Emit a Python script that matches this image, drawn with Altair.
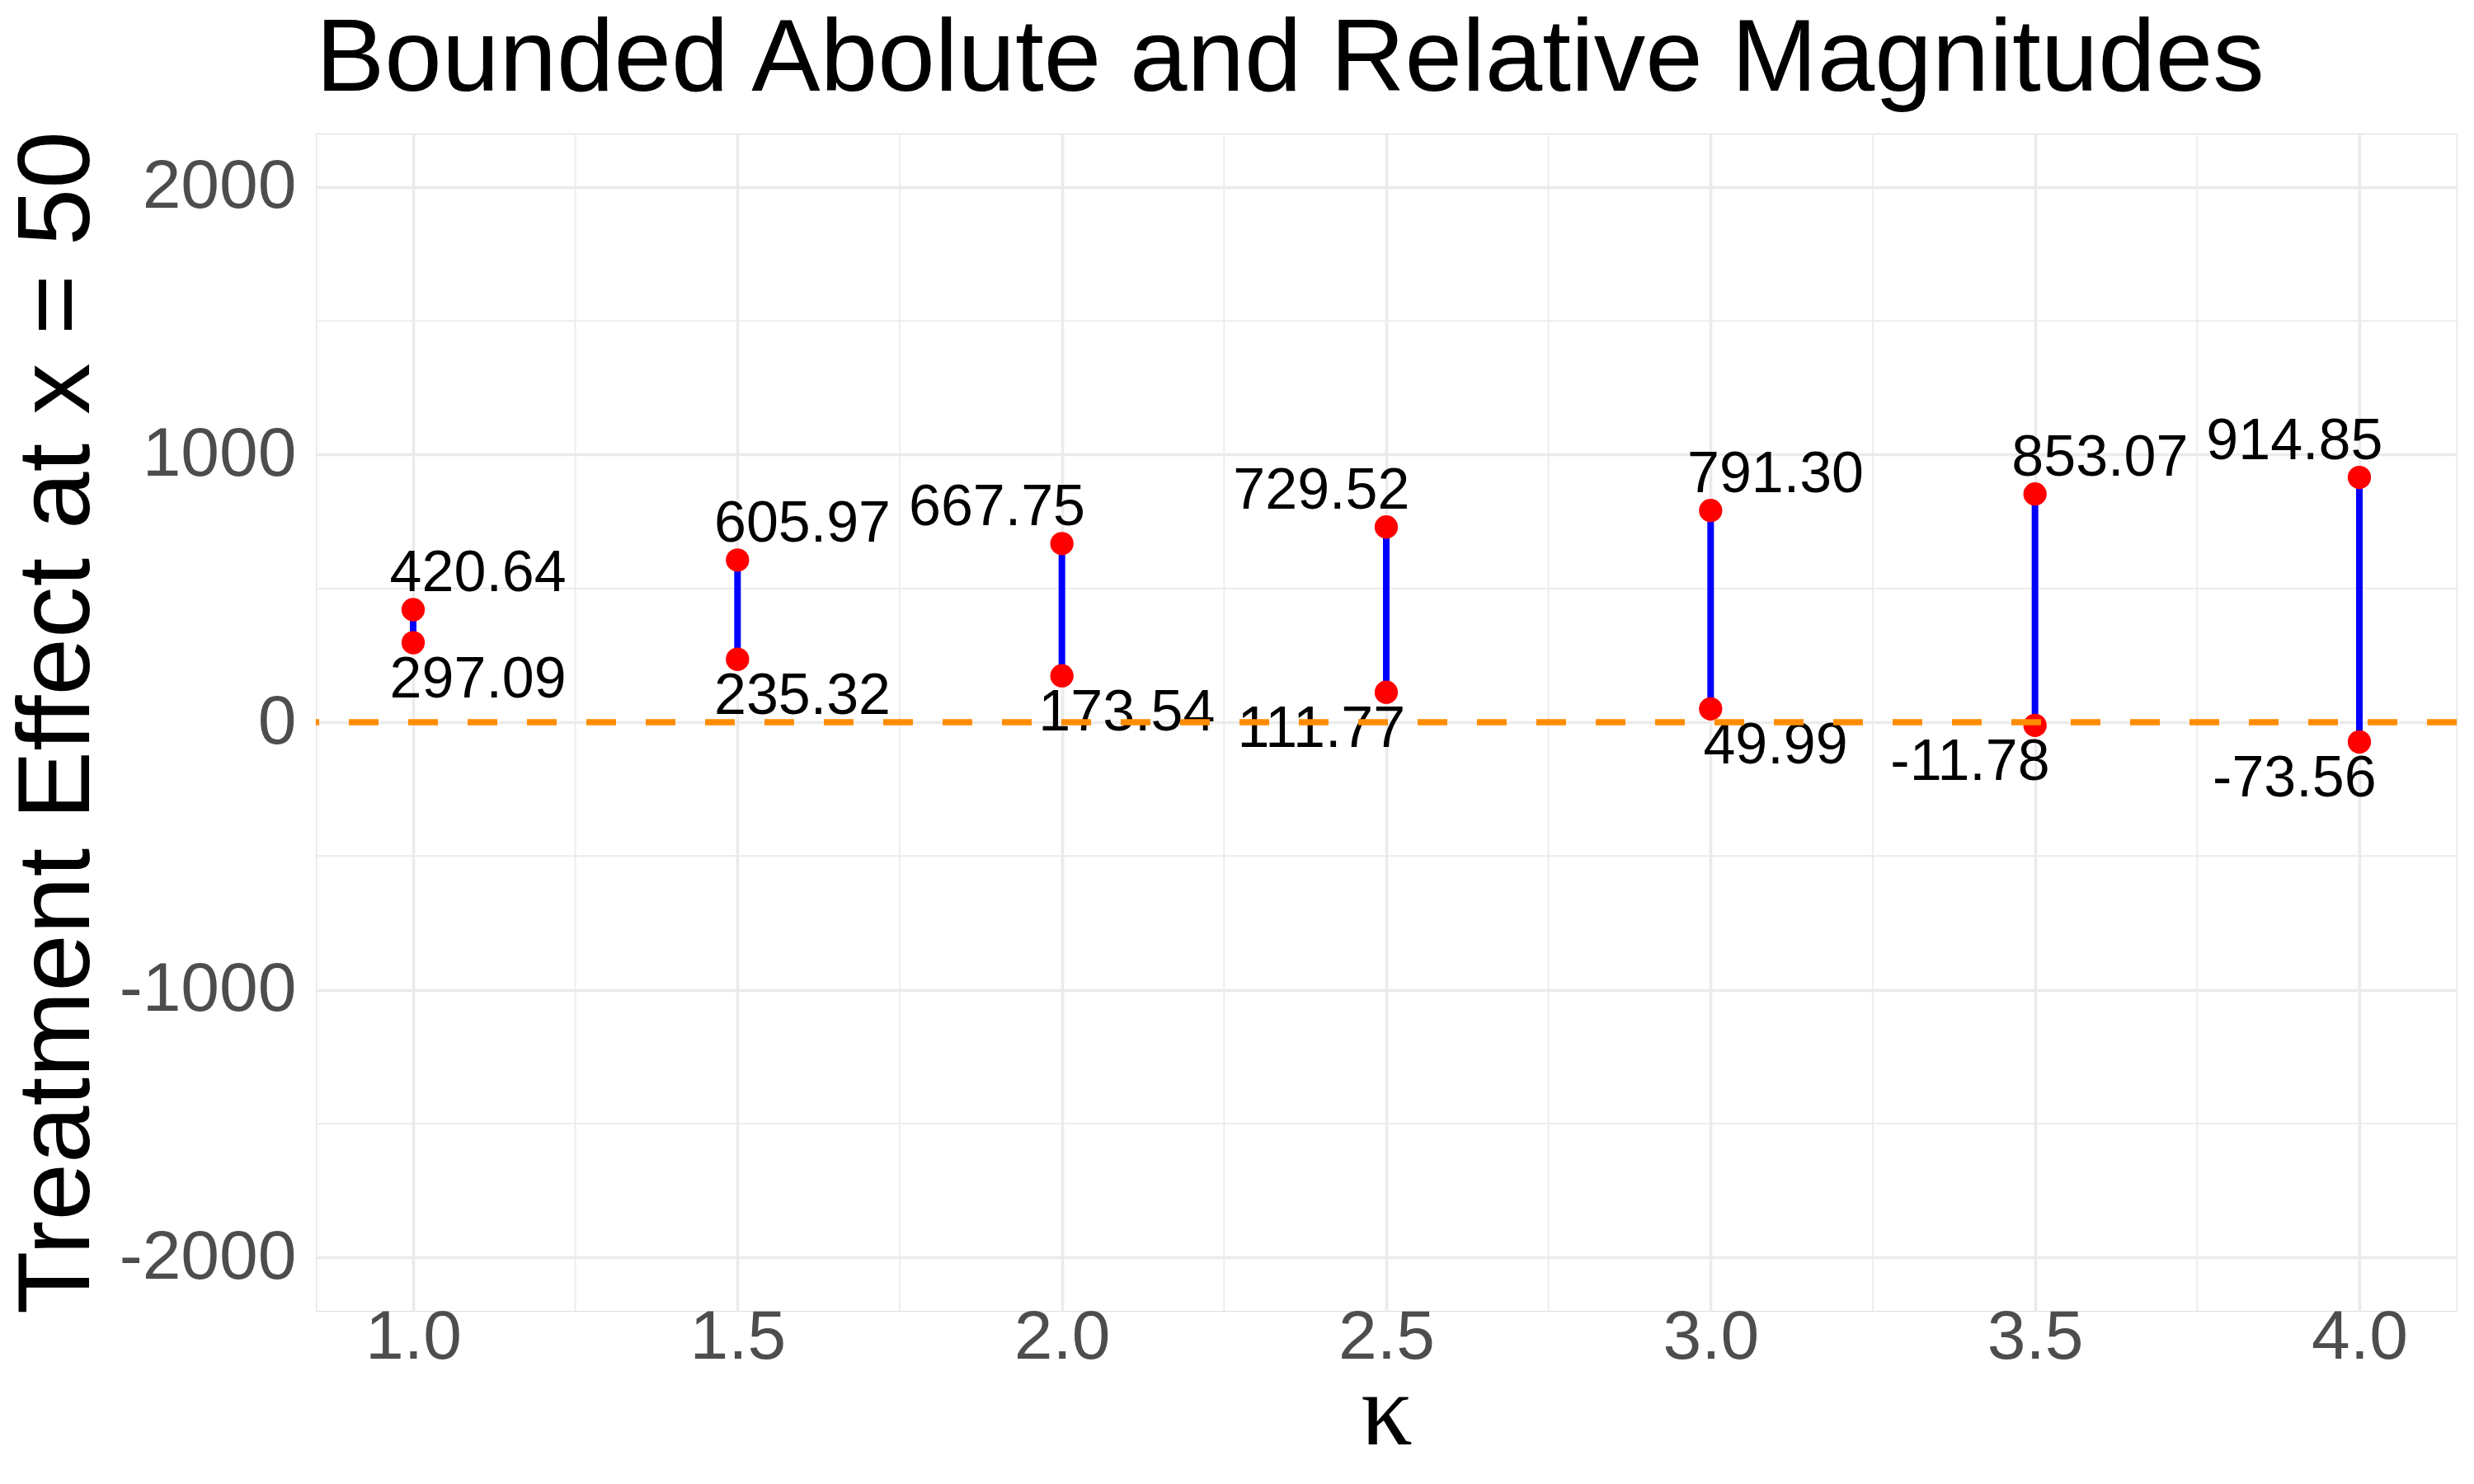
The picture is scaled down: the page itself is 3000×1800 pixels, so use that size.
import altair as alt
import pandas as pd

kappa = [1.0, 1.5, 2.0, 2.5, 3.0, 3.5, 4.0]
upper = [420.64, 605.97, 667.75, 729.52, 791.30, 853.07, 914.85]
lower = [297.09, 235.32, 173.54, 111.77, 49.99, -11.78, -73.56]
# direction in which each label was pushed sideways (repel)
upper_side = [1, 1, -1, -1, 1, 1, -1]
lower_side = [1, 1, 1, -1, 1, -1, -1]

x_ticks = [1.0, 1.5, 2.0, 2.5, 3.0, 3.5, 4.0]
x_minor = [1.25, 1.75, 2.25, 2.75, 3.25, 3.75]
y_ticks = [-2000, -1000, 0, 1000, 2000]
y_minor = [-1500, -500, 500, 1500]

seg = pd.DataFrame({"kappa": kappa, "lower": lower, "upper": upper})
pts = pd.DataFrame({
    "kappa": kappa + kappa,
    "value": upper + lower,
    "side": upper_side + lower_side,
    "pos": ["top"] * len(kappa) + ["bottom"] * len(kappa),
})
pts["label"] = [f"{v:.2f}" for v in pts["value"]]

XT = "κ"
YT = "Treatment Effect at x = 50"
xs = alt.Scale(domain=[0.85, 4.15], nice=False, zero=False)
ys = alt.Scale(domain=[-2200, 2200], nice=False, zero=False)

x_axis = alt.Axis(
    values=x_ticks, labelExpr="format(datum.value, '.1f')", grid=True,
    gridColor="#EBEBEB", gridWidth=3.6, domain=False, ticks=False, tickSize=0,
    labelFont="Liberation Sans", labelFontSize=84, labelColor="#4D4D4D",
    labelPadding=-9, labelLimit=0, title=XT, titleFont="Liberation Serif",
    titleFontSize=125, titleFontWeight="normal", titleColor="black",
    titleBaseline="alphabetic", titleY=161, titleX=1298,
)
y_axis = alt.Axis(
    values=y_ticks, labelExpr="'' + datum.value", grid=True,
    gridColor="#EBEBEB", gridWidth=3.6, domain=False, ticks=False, tickSize=0,
    labelFont="Liberation Sans", labelFontSize=84, labelColor="#4D4D4D",
    labelPadding=24, labelLimit=0, title=YT, titleFont="Liberation Sans",
    titleFontSize=125, titleFontWeight="normal", titleColor="black",
    titleBaseline="alphabetic", titleX=-276, titleY=714,
)

base = alt.Chart(pts)

minor_x = alt.Chart(pd.DataFrame({"kappa": x_minor})).mark_rule(
    color="#EBEBEB", strokeWidth=1.8
).encode(x=alt.X("kappa:Q", scale=xs, axis=x_axis, title=XT))

minor_y = alt.Chart(pd.DataFrame({"value": y_minor})).mark_rule(
    color="#EBEBEB", strokeWidth=1.8
).encode(y=alt.Y("value:Q", scale=ys, axis=y_axis, title=YT))

segments = alt.Chart(seg).mark_rule(color="#0000FF", strokeWidth=8).encode(
    x=alt.X("kappa:Q", scale=xs, axis=x_axis, title=XT),
    y=alt.Y("lower:Q", scale=ys, axis=y_axis, title=YT),
    y2="upper:Q",
)

points = base.mark_point(filled=True, color="#FF0000", opacity=1, size=800, strokeWidth=0).encode(
    x=alt.X("kappa:Q", scale=xs, axis=x_axis, title=XT),
    y=alt.Y("value:Q", scale=ys, axis=y_axis, title=YT),
)

def labels(pos, dy):
    return base.transform_filter(alt.datum.pos == pos).transform_calculate(
        lx="datum.kappa + datum.side * 0.1"
    ).mark_text(
        font="Liberation Sans", fontSize=70, color="black", baseline="middle",
        align="center", dy=dy
    ).encode(
        x=alt.X("lx:Q", scale=xs, axis=x_axis, title=XT),
        y=alt.Y("value:Q", scale=ys, axis=y_axis, title=YT),
        text="label:N",
    )

hline = alt.Chart(pd.DataFrame({"value": [0]})).mark_rule(
    color="#FF8C00", strokeWidth=7.5, strokeDash=[36, 36]
).encode(y=alt.Y("value:Q", scale=ys, axis=y_axis, title=YT))

chart = alt.layer(
    minor_x, minor_y, segments, points, labels("top", -43), labels("bottom", 45), hline
).properties(
    width=2596, height=1428,
    title=alt.TitleParams(
        "Bounded Abolute and Relative Magnitudes", anchor="start", frame="group",
        font="Liberation Sans", fontSize=125, fontWeight="normal", color="black",
        offset=23,
    ),
    autosize=alt.AutoSizeParams(type="none"),
    padding={"left": 375, "top": 154, "right": 13, "bottom": 202},
).configure_view(stroke=None).configure(background="white")

chart.save("out.html", embed_options={"renderer": "svg", "actions": False})
